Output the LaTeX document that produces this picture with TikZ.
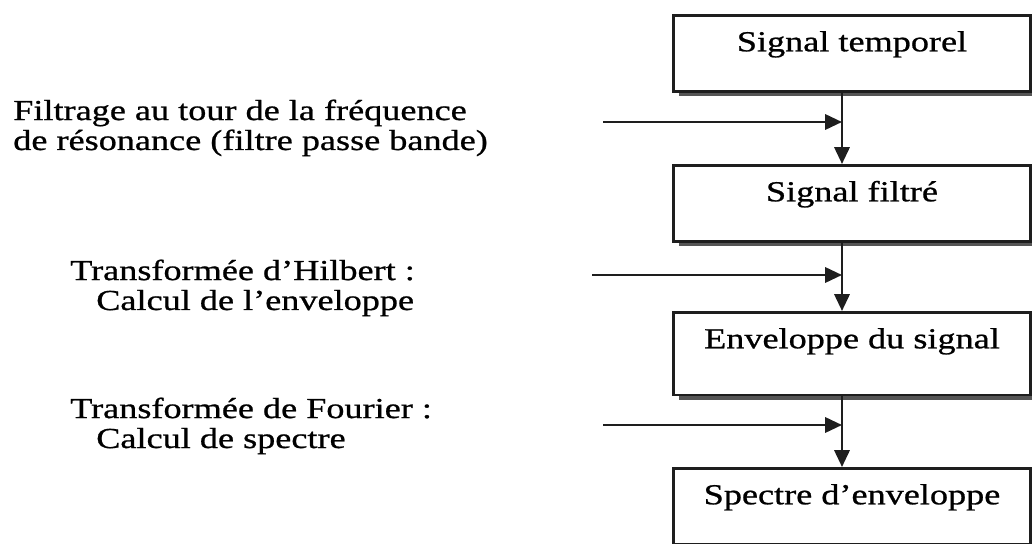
\documentclass[tikz,border=0pt]{standalone}
\usepackage{fontspec}
\setmainfont{Liberation Serif}[FakeStretch=1.25, FakeBold=0.8]
\usepackage{xcolor}
\definecolor{lineDark}{RGB}{30,30,30}
\definecolor{shadowGray}{RGB}{85,85,85}
\usepackage{tikz}
\usetikzlibrary{arrows.meta,positioning,shadows}

\tikzset{
  stage/.style={draw=lineDark, line width=1.8pt, fill=white, anchor=north,
    minimum width=8.925cm, inner sep=0pt, text height=0.9cm, text depth=1.0cm,
    font=\fontsize{20.6pt}{21.3pt}\selectfont,
    drop shadow={shadow xshift=0.15cm, shadow yshift=-0.13cm, fill=shadowGray, opacity=1}},
  steplabel/.style={anchor=base west, align=left, inner sep=0pt,
    font=\fontsize{20.6pt}{21.3pt}\selectfont},
  flow/.style={lineDark, line width=1.8pt, -{Triangle[length=0.42cm, width=0.38cm]}}
}

\begin{document}
\begin{tikzpicture}[x=0.025cm, y=-0.025cm]
  \useasboundingbox (0,0) rectangle (1032,544);
  \clip (0,0) rectangle (1032,544);

  % chain of stages
  \node[stage] (sigTemp) at (852,14)  {Signal temporel};
  \node[stage] (sigFilt) at (852,164) {Signal filtré};
  \node[stage, text depth=1.17cm] (envSig) at (852,311) {Enveloppe du signal};
  \node[stage] (specEnv) at (852,467) {Spectre d’enveloppe};

  \coordinate (spine) at (842,0);
  \coordinate (inFiltre)  at (603,122);
  \coordinate (inHilbert) at (592,275);
  \coordinate (inFourier) at (603,425);

  % operations on the left (anchored on the last line)
  \node[steplabel] (lblFiltre) at (13,150)
    {Filtrage au tour de la fréquence\\de résonance (filtre passe bande)};
  \node[steplabel] (lblHilbert) at (70,310)
    {Transformée d’Hilbert :\\\hspace*{0.65cm}Calcul de l’enveloppe};
  \node[steplabel] (lblFourier) at (70,448)
    {Transformée de Fourier :\\\hspace*{0.65cm}Calcul de spectre};

  \draw[flow] (sigTemp.south -| spine) -- (sigFilt.north -| spine);
  \draw[flow] (sigFilt.south -| spine) -- (envSig.north -| spine);
  \draw[flow] (envSig.south -| spine) -- (specEnv.north -| spine);

  \draw[flow] (inFiltre) -- (inFiltre -| spine);
  \draw[flow] (inHilbert) -- (inHilbert -| spine);
  \draw[flow] (inFourier) -- (inFourier -| spine);
\end{tikzpicture}
\end{document}
